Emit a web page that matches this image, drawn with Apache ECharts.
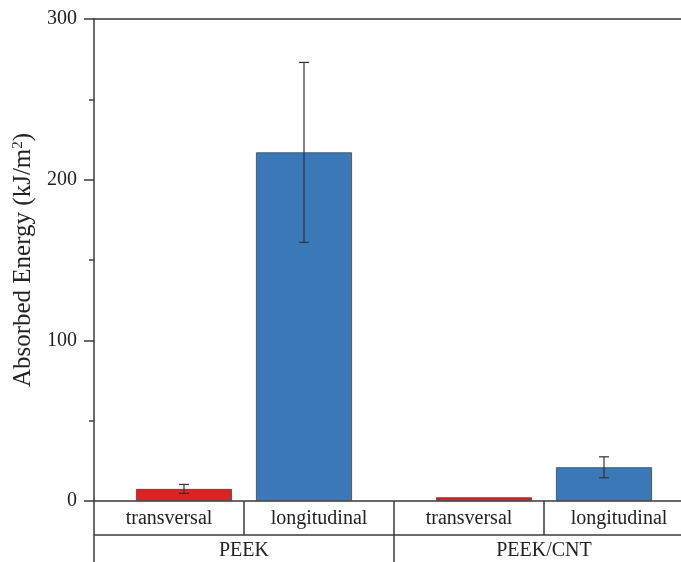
<!DOCTYPE html>
<html>
<head>
<meta charset="utf-8">
<script src="https://cdn.jsdelivr.net/npm/echarts@6/dist/echarts.min.js"></script>
<style>
  html, body { margin: 0; padding: 0; background: #fff; }
  #chart { width: 681px; height: 562px; }
</style>
</head>
<body>
<div id="chart"></div>
<script>
// Materials and specimen orientations
const groups = ['PEEK', 'PEEK/CNT'];
const orientations = ['transversal', 'longitudinal'];

// Absorbed energy (kJ/m²), one row per material, columns follow orientations
const energyMean = [
  [7.5, 217],
  [2.3, 21]
];
const energyErr = [
  [2.8, 56],
  [0, 6.5]
];

// Y axis ticks
const yTicks = [0, 100, 200, 300];

const FONT = 'Liberation Serif';
const TEXT = '#222';
const LINE = '#3a3a3a';
const barColors = ['#dc2222', '#3a78b8'];

// Each orientation is one unit wide on the x scale; the plot area shows a
// little less than the last cell, which runs past the right edge.
const X_UNIT_PX = 150;
const GRID_LEFT = 94;
const GRID_W = 681 - GRID_LEFT;
const X_MAX = GRID_W / X_UNIT_PX;

// Bars sit at ±0.4 around the centre of each material's two cells
function barPos(g, o) {
  return g * 2 + 1 + (o === 0 ? -0.4 : 0.4);
}

const barData = [];
const errData = [];
const cellData = [];
groups.forEach((g, gi) => {
  orientations.forEach((o, oi) => {
    const x = barPos(gi, oi);
    barData.push({
      value: [x, energyMean[gi][oi]],
      itemStyle: { color: barColors[oi] }
    });
    errData.push([x, energyMean[gi][oi], energyErr[gi][oi]]);
    cellData.push([gi * orientations.length + oi, gi, oi]);
  });
});

const ROW1 = 34;   // height of the orientation row
const ROW2 = 40;   // height of the material row (runs off the bottom)

const chart = echarts.init(document.getElementById('chart'), null, { renderer: 'canvas' });

chart.setOption({
  animation: false,
  backgroundColor: '#fff',
  grid: { left: GRID_LEFT, top: 19, right: 0, bottom: 61, containLabel: false },
  xAxis: [
    {
      type: 'value', min: 0, max: X_MAX, position: 'bottom',
      axisLine: { show: true, onZero: false, lineStyle: { color: LINE, width: 1.5 } },
      axisTick: { show: false }, axisLabel: { show: false }, splitLine: { show: false }
    },
    {
      type: 'value', min: 0, max: X_MAX, position: 'top',
      axisLine: { show: true, onZero: false, lineStyle: { color: LINE, width: 1.5 } },
      axisTick: { show: false }, axisLabel: { show: false }, splitLine: { show: false }
    }
  ],
  yAxis: {
    type: 'value',
    min: yTicks[0], max: yTicks[yTicks.length - 1], interval: yTicks[1] - yTicks[0],
    name: 'Absorbed Energy (kJ/m{sup|2})',
    nameLocation: 'middle', nameGap: 54, nameRotate: 90,
    nameTextStyle: {
      fontFamily: FONT, fontSize: 25, color: TEXT,
      rich: { sup: { fontFamily: FONT, fontSize: 15, color: TEXT, verticalAlign: 'top', padding: [0, 0, 12, 0] } }
    },
    axisLine: { show: true, onZero: false, lineStyle: { color: LINE, width: 1.5 } },
    axisTick: { show: true, length: 10, lineStyle: { color: LINE, width: 1.5 } },
    minorTick: { show: true, splitNumber: 2, length: 5, lineStyle: { color: LINE, width: 1.5 } },
    axisLabel: { margin: 17, fontFamily: FONT, fontSize: 20, color: TEXT },
    splitLine: { show: false }
  },
  series: [
    {
      type: 'bar', xAxisIndex: 0, data: barData, barWidth: 96,
      itemStyle: { borderColor: '#444', borderWidth: 0.8 }
    },
    {
      // error bars: mean ± deviation
      type: 'custom', xAxisIndex: 0, data: errData, z: 5,
      renderItem: function (params, api) {
        const x = api.value(0), m = api.value(1), e = api.value(2);
        if (!e) return null;
        const hi = api.coord([x, m + e]);
        const lo = api.coord([x, m - e]);
        const cap = 5;
        const style = { stroke: '#333', lineWidth: 1.2 };
        return {
          type: 'group',
          children: [
            { type: 'line', shape: { x1: hi[0], y1: hi[1], x2: lo[0], y2: lo[1] }, style },
            { type: 'line', shape: { x1: hi[0] - cap, y1: hi[1], x2: hi[0] + cap, y2: hi[1] }, style },
            { type: 'line', shape: { x1: lo[0] - cap, y1: lo[1], x2: lo[0] + cap, y2: lo[1] }, style }
          ]
        };
      }
    },
    {
      // two-row category table under the plot
      type: 'custom', xAxisIndex: 0, data: cellData, clip: false, silent: true,
      renderItem: function (params, api) {
        const cell = api.value(0), gi = api.value(1), oi = api.value(2);
        const left = api.coord([cell, 0]);
        const right = api.coord([cell + 1, 0]);
        const y0 = left[1];
        const y1 = y0 + ROW1;
        const y2 = y1 + ROW2;
        const ls = { stroke: LINE, lineWidth: 1.5 };
        const ts = (txt, x, y) => ({
          type: 'text',
          style: {
            text: txt, x: x, y: y, fill: TEXT,
            fontFamily: FONT, fontSize: 20,
            align: 'center', verticalAlign: 'middle'
          }
        });
        const children = [
          { type: 'line', shape: { x1: left[0], y1: y0, x2: left[0], y2: y1 }, style: ls },
          { type: 'line', shape: { x1: left[0], y1: y1, x2: right[0], y2: y1 }, style: ls },
          ts(orientations[oi], (left[0] + right[0]) / 2, y0 + ROW1 / 2 + 1)
        ];
        if (oi === 0) {
          const gRight = api.coord([cell + orientations.length, 0]);
          children.push(
            { type: 'line', shape: { x1: left[0], y1: y1, x2: left[0], y2: y2 }, style: ls },
            ts(groups[gi], (left[0] + gRight[0]) / 2, y1 + 16)
          );
        }
        return { type: 'group', children: children };
      }
    }
  ]
});
</script>
</body>
</html>
